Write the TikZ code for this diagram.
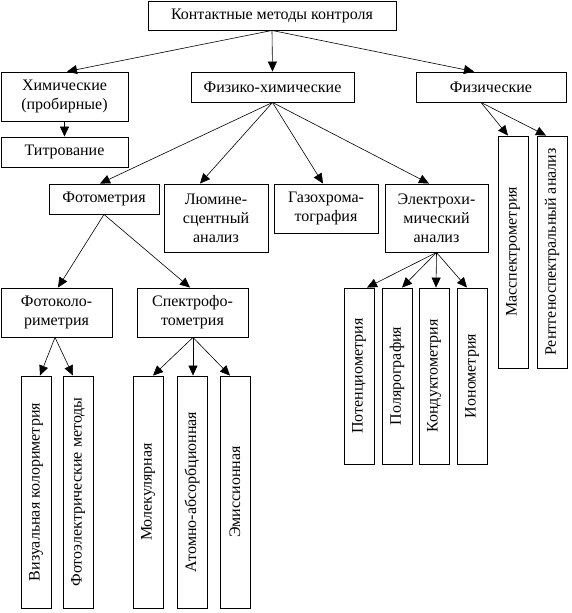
\documentclass[tikz,border=0pt]{standalone}
\usepackage{fontspec}
\setmainfont{Liberation Serif}
\usetikzlibrary{arrows.meta}
\begin{document}
\begin{tikzpicture}[x=1pt,y=-1pt,
  box/.style={draw,line width=0.9pt,inner sep=0pt,align=center,font=\fontsize{16}{19}\selectfont},
  hbox/.style={box},
  vbox/.style={box,minimum width=30pt,minimum height=232pt},
  ebox/.style={box,minimum width=30pt,minimum height=176pt},
  arr/.style={line width=0.6pt,-{Triangle[length=10pt,width=9pt]}}]
\useasboundingbox (0,0) rectangle (571,613);
\node[hbox,minimum width=248pt,minimum height=29pt] (top) at (272,15.5) {Контактные методы контроля};
\node[hbox,minimum width=127pt,minimum height=49pt] (chem) at (64.5,96.5) {Химические\\(пробирные)};
\node[hbox,minimum width=127pt,minimum height=30pt] (titr) at (64.5,152) {Титрование};
\node[hbox,minimum width=163pt,minimum height=30pt] (physchem) at (272.5,87) {Физико-химические};
\node[hbox,minimum width=150pt,minimum height=30pt] (phys) at (491,87) {Физические};
\node[hbox,minimum width=110pt,minimum height=30pt] (photom) at (104,199) {Фотометрия};
\node[hbox,minimum width=104pt,minimum height=68pt] (lumin) at (216,218) {Люмине-\\сцентный\\анализ};
\node[hbox,minimum width=104pt,minimum height=49pt] (gas) at (326,208.5) {Газохрома-\\тография};
\node[hbox,minimum width=103pt,minimum height=68pt] (electro) at (436.5,218) {Электрохи-\\мический\\анализ};
\node[vbox] (mass) at (513,252) {\rotatebox{90}{Масспектрометрия}};
\node[vbox] (xray) at (552,252) {\rotatebox{90}{Рентгеноспектральный анализ}};
\node[hbox,minimum width=111pt,minimum height=49pt] (photocol) at (56.5,312.5) {Фотоколо-\\риметрия};
\node[hbox,minimum width=111pt,minimum height=49pt] (spectro) at (192.5,312.5) {Спектрофо-\\тометрия};
\node[vbox] (vis) at (36,492) {\rotatebox{90}{Визуальная колориметрия}};
\node[vbox] (photoel) at (78,492) {\rotatebox{90}{Фотоэлектрические методы}};
\node[vbox] (molec) at (148,492) {\rotatebox{90}{Молекулярная}};
\node[vbox] (atom) at (192,492) {\rotatebox{90}{Атомно-абсорбционная}};
\node[vbox] (emis) at (235,492) {\rotatebox{90}{Эмиссионная}};
\node[ebox] (poten) at (359,376) {\rotatebox{90}{Потенциометрия}};
\node[ebox] (polar) at (397,376) {\rotatebox{90}{Полярография}};
\node[ebox] (kond) at (434,376) {\rotatebox{90}{Кондуктометрия}};
\node[ebox] (ionom) at (472,376) {\rotatebox{90}{Ионометрия}};
% arrows
\draw[arr] (top.south) -- (physchem.north);
\draw[arr] (top.south) -- ([xshift=2.5pt]chem.north);
\draw[arr] (top.south) -- ([xshift=-17pt]phys.north);
\draw[arr] (chem.south) -- (titr.north);
\draw[arr] (physchem.south) -- ([xshift=-4pt]photom.north);
\draw[arr] (physchem.south) -- ([xshift=-16pt]lumin.north);
\draw[arr] (physchem.south) -- ([xshift=-3pt]gas.north);
\draw[arr] (physchem.south) -- ([xshift=-7.5pt]electro.north);
\draw[arr] ([xshift=-10pt]phys.south) -- ([xshift=-5pt]mass.north);
\draw[arr] ([xshift=-10pt]phys.south) -- ([xshift=-6pt]xray.north);
\draw[arr] (photom.south) -- ([xshift=1.5pt]photocol.north);
\draw[arr] (photom.south) -- ([xshift=-2.5pt]spectro.north);
\draw[arr] ([xshift=-1.5pt]photocol.south) -- ([xshift=4pt]vis.north);
\draw[arr] ([xshift=-1.5pt]photocol.south) -- ([xshift=-5pt]photoel.north);
\draw[arr] ([xshift=0.5pt]spectro.south) -- ([xshift=5pt]molec.north);
\draw[arr] ([xshift=0.5pt]spectro.south) -- ([xshift=1pt]atom.north);
\draw[arr] ([xshift=0.5pt]spectro.south) -- ([xshift=-5pt]emis.north);
\draw[arr] (electro.south) -- ([xshift=8pt]poten.north);
\draw[arr] (electro.south) -- ([xshift=5pt]polar.north);
\draw[arr] (electro.south) -- ([xshift=2pt]kond.north);
\draw[arr] (electro.south) -- ([xshift=-5pt]ionom.north);
\end{tikzpicture}
\end{document}
